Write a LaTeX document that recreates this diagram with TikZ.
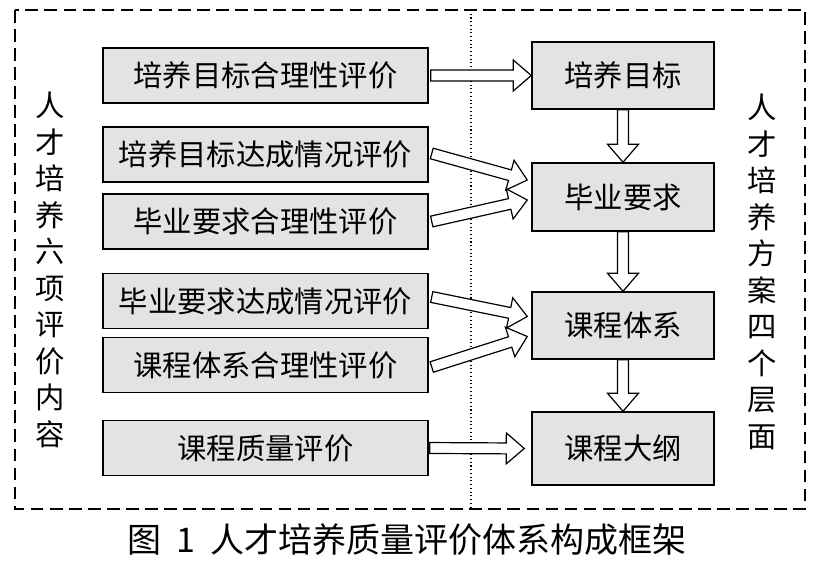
\documentclass[tikz,border=0pt]{standalone}
\usepackage{fontspec}
\setmainfont{Noto Sans CJK SC}
\usetikzlibrary{calc}

\tikzset{
  box/.style = {draw, line width=1.1pt, fill=black!11, inner sep=0pt,
                font=\fontsize{22}{22}\selectfont},
  evalbox/.style = {box, minimum width=243.75pt, minimum height=41.25pt},
  levelbox/.style = {box, minimum width=136.5pt, minimum height=#1},
  levelbox/.default = 50.25pt,
  fat/.style = {draw, line width=0.9pt, fill=white, line join=miter},
  column/.style = {align=center, inner sep=0pt,
                   font=\fontsize{22}{27.4}\selectfont}
}

% hollow block arrow from #1 to #2
\newcommand{\fatarrow}[2]{%
  \coordinate (h) at ($(#2)!13.5pt!(#1)$);
  \draw[fat] ($(#1)!4.1pt!90:(#2)$) -- ($(h)!4.1pt!90:(#2)$)
    -- ($(h)!11.6pt!90:(#2)$) -- (#2) -- ($(h)!11.6pt!-90:(#2)$)
    -- ($(h)!4.1pt!-90:(#2)$) -- ($(#1)!4.1pt!-90:(#2)$) -- cycle;
}

\begin{document}
\begin{tikzpicture}[x=0.75pt, y=-0.75pt]
  \useasboundingbox (0,0) rectangle (830,564);

  % frame and divider
  \draw[line width=1.5pt, dash pattern=on 9.5pt off 4.8pt] (15,10) rectangle (805,509);
  \draw[dotted, line width=0.8pt] (471,10) -- (471,509);

  % six evaluations
  \node[evalbox] (e1) at (265.5,75.5) {培养目标合理性评价};
  \node[evalbox] (e2) at (265.5,154.5) {培养目标达成情况评价};
  \node[evalbox] (e3) at (265.5,221.5) {毕业要求合理性评价};
  \node[evalbox] (e4) at (265.5,301) {毕业要求达成情况评价};
  \node[evalbox] (e5) at (265.5,365) {课程体系合理性评价};
  \node[evalbox] (e6) at (265.5,448) {课程质量评价};

  % four levels
  \node[levelbox] (l1) at (623,75.5) {培养目标};
  \node[levelbox=51pt] (l2) at (623,197) {毕业要求};
  \node[levelbox] (l3) at (623,325.5) {课程体系};
  \node[levelbox=54.75pt] (l4) at (623,448.5) {课程大纲};

  % side labels
  \node[column] (left) at (50,270) {人\\才\\培\\养\\六\\项\\评\\价\\内\\容};
  \node[column] (right) at (762,272) {人\\才\\培\\养\\方\\案\\四\\个\\层\\面};

  % arrows
  \fatarrow{$(e1.east)+(2,0)$}{l1.west}
  \fatarrow{$(e2.east)+(3,-1)$}{$(l2.west)+(-4,-17)$}
  \fatarrow{$(e3.east)+(3,0)$}{$(l2.west)+(-4,3)$}
  \fatarrow{$(e4.east)+(3,-4)$}{$(l3.west)+(-4,-9)$}
  \fatarrow{$(e5.east)+(3,2)$}{$(l3.west)+(-4,11)$}
  \fatarrow{$(e6.east)+(1,0)$}{$(l4.west)+(-7,0)$}
  \fatarrow{l1.south}{l2.north}
  \fatarrow{l2.south}{l3.north}
  \fatarrow{l3.south}{l4.north}

  \node[font=\fontsize{25.5}{25.5}\selectfont] (caption) at (407,540)
    {图\hspace{0.45em}1\hspace{0.45em}人才培养质量评价体系构成框架};
\end{tikzpicture}
\end{document}
